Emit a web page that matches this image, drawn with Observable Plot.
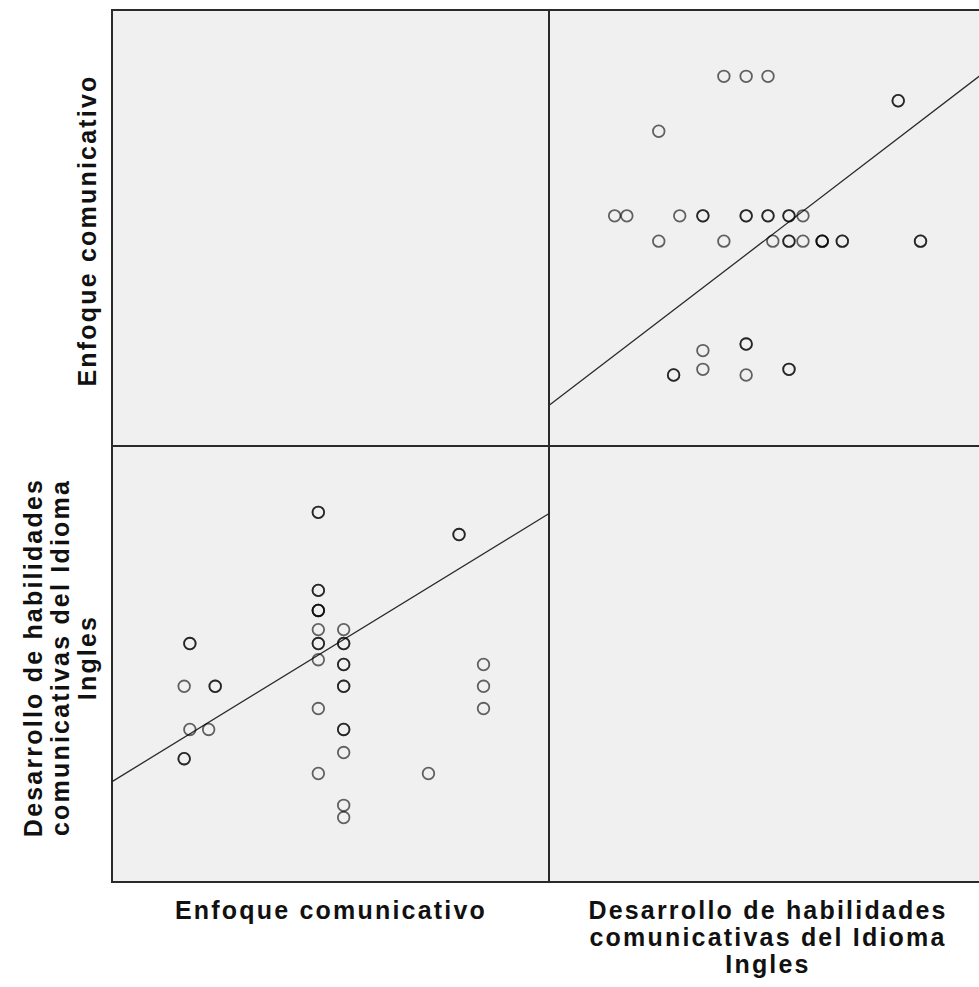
<!DOCTYPE html>
<html>
<head>
<meta charset="utf-8">
<script src="https://cdn.jsdelivr.net/npm/d3@7"></script>
<script src="https://cdn.jsdelivr.net/npm/@observablehq/plot@0.6"></script>
<style>
  html, body { margin: 0; padding: 0; background: #fff; overflow: hidden; }
  #chart svg text { letter-spacing: 2.2px; }
</style>
</head>
<body>
<div id="chart"></div>
<script>
// Variable names (facet keys and labels)
const varKeys = ["E", "D"];
const varLabels = {
  E: "Enfoque comunicativo",
  D: "Desarrollo de habilidades\ncomunicativas del Idioma\nIngles"
};

const enfoque    = [47.1, 79.3, 47.1, 47.1, 47.1, 52.9, 17.7, 47.1, 52.9, 47.1, 52.9, 84.9, 16.4, 23.5, 52.9, 84.9, 47.1, 84.9, 17.7, 22.0, 52.9, 16.4, 52.9, 47.1, 72.3, 52.9, 52.9];
const desarrollo = [84.9, 79.8, 67.0, 62.4, 58.0, 58.0, 54.8, 54.8, 54.8, 51.1, 50.0, 50.0, 45.0, 45.0, 45.0, 45.0, 39.9, 39.9, 35.1, 35.1, 35.1, 28.4, 29.8, 25.0, 25.0, 17.7, 14.9];
const counts     = [2,    2,    2,    3,    1,    1,    2,    2,    2,    1,    2,    1,    1,    2,    2,    1,    1,    1,    1,    1,    2,    2,    1,    1,    1,    1,    1];

// Fit lines as drawn in the reference (y = intercept + slope * x), per panel
const fitPanels    = [["E", "D"], ["D", "E"]];   // [fx (x variable), fy (y variable)]
const fitIntercept = [23.2, 9.5];
const fitSlope     = [0.615, 0.767];

const scaleDomain = [0, 100];

// Build the scatterplot-matrix rows (off-diagonal panels)
const rows = [];
enfoque.forEach((e, i) => {
  for (let k = 0; k < counts[i]; k++) {
    rows.push({fx: "E", fy: "D", x: e, y: desarrollo[i]});
    rows.push({fx: "D", fy: "E", x: desarrollo[i], y: e});
  }
});

const fitData = fitPanels.flatMap(([fx, fy], i) =>
  scaleDomain.map(x => ({fx, fy, panel: fx + fy, x, y: fitIntercept[i] + fitSlope[i] * x})));

// Panels (all four cells of the matrix)
const panels = [];
for (const fy of varKeys) for (const fx of varKeys) panels.push({fx, fy});

const bottomLabels = varKeys.map(k => ({fx: k, fy: "D", text: varLabels[k]}));
const leftTop = [{fx: "E", fy: "E", text: varLabels.E}];
const leftBottom = [{fx: "E", fy: "D", text: varLabels.D}];

const textStyle = {fontSize: 25, fontWeight: "bold", fill: "#111", lineHeight: 1.08};

const chart = Plot.plot({
  width: 979,
  height: 987,
  marginLeft: 112,
  marginRight: -7,
  marginTop: 10,
  marginBottom: 105,
  style: {fontFamily: "'Liberation Sans', Arial, sans-serif", background: "#fff", overflow: "visible"},
  x: {domain: scaleDomain, axis: null},
  y: {domain: scaleDomain, axis: null},
  fx: {domain: varKeys, padding: 0, axis: null},
  fy: {domain: varKeys, padding: 0, axis: null},
  marks: [
    Plot.rect(panels, {fx: "fx", fy: "fy", fill: "#f0f0f0"}),
    Plot.line(fitData, {x: "x", y: "y", fx: "fx", fy: "fy", z: "panel", stroke: "#2b2b2b", strokeWidth: 1.3}),
    Plot.dot(rows, {x: "x", y: "y", fx: "fx", fy: "fy", r: 5.8, fill: "none", stroke: "#000", strokeOpacity: 0.6, strokeWidth: 1.8}),
    Plot.rect(panels, {fx: "fx", fy: "fy", fill: "none", stroke: "#2a2a2a", strokeWidth: 2}),
    Plot.text(bottomLabels, {fx: "fx", fy: "fy", text: "text", frameAnchor: "bottom", lineAnchor: "top", textAnchor: "middle", dy: 17, ...textStyle}),
    Plot.text(leftTop, {fx: "fx", fy: "fy", text: "text", frameAnchor: "left", rotate: -90, textAnchor: "middle", lineAnchor: "bottom", dx: -17, dy: 2, ...textStyle}),
    Plot.text(leftBottom, {fx: "fx", fy: "fy", text: "text", frameAnchor: "left", rotate: -90, textAnchor: "middle", lineAnchor: "bottom", dx: -17, dy: -7, ...textStyle})
  ]
});
document.getElementById("chart").appendChild(chart);
</script>
</body>
</html>
